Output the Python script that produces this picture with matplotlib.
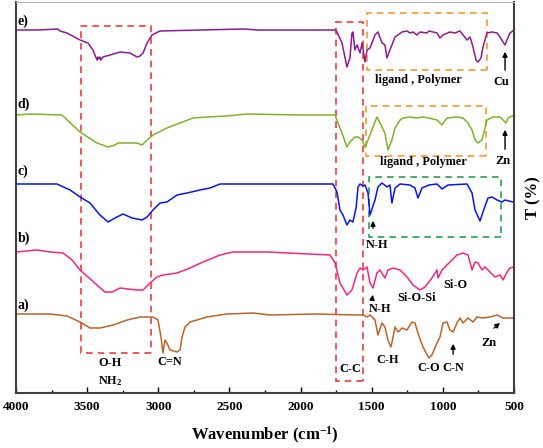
import matplotlib
matplotlib.use("Agg")
import matplotlib.pyplot as plt
from matplotlib.patches import Rectangle
import numpy as np

plt.rcParams['font.family'] = ['Liberation Serif', 'DejaVu Serif']
plt.rcParams['font.weight'] = 'bold'
plt.rcParams['mathtext.fontset'] = 'custom'
plt.rcParams['mathtext.rm'] = 'Liberation Serif:bold'
plt.rcParams['mathtext.it'] = 'Liberation Serif:bold'
plt.rcParams['mathtext.bf'] = 'Liberation Serif:bold'

# wavenumber (cm-1) and band depth below each trace's baseline (arb. units x10)
wn_e = [4000, 3850, 3705, 3691, 3642, 3550, 3494, 3459, 3431, 3424, 3417, 3410, 3403, 3389, 3339, 3269,
        3199, 3150, 3128, 3107, 3079, 3044, 2988, 2700, 2400, 2300, 1800, 1758, 1744, 1709, 1674, 1653,
        1639, 1632, 1618, 1603, 1582, 1568, 1547, 1533, 1512, 1477, 1456, 1428, 1407, 1393, 1372, 1336,
        1287, 1252, 1231, 1210, 1182, 1161, 1112, 1098, 1041, 1020, 999, 950, 915, 880, 858, 830, 809,
        788, 767, 753, 732, 718, 690, 655, 619, 598, 577, 563, 549, 528, 500]
dep_e = [0, 0, -1, 1, 3, 10, 13, 20, 30, 27, 29, 27, 30, 27, 25, 22,
         23, 27, 26, 23, 13, 5, 1, 0, -1, 0, 0, 0, 2, 13, 37, 28,
         3, 2, 20, 15, 23, 13, 32, 20, 18, 5, 2, 13, 15, 28, 20, 7,
         2, 1, 3, 2, 5, 2, 3, 1, 3, 8, 5, 2, 3, 1, 5, 10, 7,
         17, 30, 32, 28, 17, 3, 2, 3, 7, 12, 15, 10, 3, 0]

wn_d = [4000, 3900, 3677, 3550, 3431, 3353, 3304, 3283, 3220, 3150, 3114, 3079, 3037, 2939, 2847, 2756,
        2658, 2517, 2377, 2000, 1758, 1737, 1709, 1674, 1653, 1618, 1596, 1568, 1547, 1526, 1491, 1463,
        1442, 1407, 1386, 1358, 1336, 1301, 1280, 1231, 1182, 1140, 1098, 1041, 1006, 971, 901, 858,
        823, 795, 774, 753, 725, 690, 648, 598, 577, 556, 542, 500]
dep_d = [0, -1, 0, 17, 28, 32, 30, 28, 28, 28, 30, 25, 20, 13, 8, 3,
         2, 1, -1, 0, 0, 8, 18, 32, 27, 22, 22, 25, 32, 25, 12, 2,
         8, 18, 35, 25, 13, 5, 3, 2, 3, 2, 3, 5, 10, 3, 2, 3,
         8, 15, 25, 28, 25, 5, 2, 2, 5, 8, 3, 0]

wn_c = [4000, 3712, 3620, 3550, 3480, 3410, 3353, 3304, 3248, 3185, 3114, 3079, 3037, 2988, 2939, 2868,
        2798, 2707, 2637, 2566, 1864, 1772, 1744, 1723, 1702, 1674, 1653, 1632, 1610, 1596, 1582, 1561,
        1547, 1526, 1512, 1498, 1477, 1456, 1428, 1393, 1372, 1358, 1336, 1301, 1231, 1196, 1175, 1147,
        1098, 1041, 1006, 964, 830, 795, 774, 739, 718, 683, 655, 619, 584, 563, 507, 500]
dep_c = [0, 0, 6, 13, 19, 31, 38, 34, 30, 34, 36, 33, 26, 19, 18, 11,
         9, 6, 4, 0, 0, 0, 8, 26, 31, 41, 36, 38, 24, 3, 0, 2,
         1, 9, 31, 25, 16, 3, -1, 3, 1, 19, 4, 0, 1, 4, 14, 4,
         1, 0, 5, 1, 0, 9, 26, 37, 28, 14, 13, 16, 18, 16, 18, 18]

wn_b = [4000, 3852, 3761, 3670, 3606, 3550, 3494, 3431, 3375, 3325, 3269, 3213, 3150, 3107, 3058, 3009,
        2967, 2868, 2777, 2686, 2566, 2475, 2236, 1793, 1758, 1723, 1674, 1639, 1603, 1582, 1561, 1533,
        1512, 1491, 1463, 1442, 1407, 1386, 1350, 1301, 1252, 1210, 1161, 1126, 1098, 1077, 1041, 1034,
        1006, 950, 901, 858, 823, 795, 774, 753, 725, 704, 669, 633, 598, 577, 549, 528, 500]
dep_b = [0, -2, 0, 1, 8, 18, 25, 33, 40, 40, 36, 37, 38, 38, 31, 25,
         23, 21, 16, 10, 3, 0, 0, 3, 11, 31, 43, 38, 21, 16, 18, 15,
         31, 36, 21, 18, 26, 18, 16, 18, 25, 33, 38, 35, 30, 26, 18, 26,
         18, 10, 3, 1, 3, 18, 10, 11, 18, 15, 20, 25, 23, 28, 20, 16, 15]

wn_a = [4000, 3761, 3642, 3550, 3480, 3410, 3318, 3220, 3128, 3037, 3002, 2981, 2967, 2953, 2939, 2918,
        2868, 2847, 2833, 2812, 2777, 2658, 2517, 2334, 2215, 1900, 1600, 1561, 1533, 1512, 1477, 1456,
        1428, 1407, 1386, 1365, 1350, 1336, 1315, 1287, 1252, 1217, 1196, 1175, 1140, 1098, 1077, 1041,
        1020, 999, 971, 950, 928, 901, 880, 858, 823, 788, 760, 718, 669, 619, 577, 500]
dep_a = [0, 0, 2, 8, 14, 14, 11, 6, 3, 3, 6, 23, 39, 26, 29, 36,
         38, 36, 23, 13, 8, 3, 0, -1, 1, 0, 1, 1, 3, 1, 6, 21,
         9, 13, 26, 33, 23, 13, 18, 14, 16, 8, 9, 19, 33, 44, 41, 29,
         23, 9, 8, 16, 18, 9, 4, 9, 4, 8, 3, 4, 3, 1, 4, 4]

names = ["e)", "d)", "c)", "b)", "a)"]
offsets = [36.3, 27.8, 20.9, 14.1, 7.9]
colors = ["#8E1C8E", "#7DB32E", "#0A14F0", "#F0287F", "#B8652A"]
waves = [wn_e, wn_d, wn_c, wn_b, wn_a]
depths = [dep_e, dep_d, dep_c, dep_b, dep_a]
label_y = [37.2, 28.9, 22.2, 15.45, 8.8]

fig = plt.figure(figsize=(5.43, 4.48), dpi=100)
ax = fig.add_axes([16/543, 55/448, 498/543, 391/448])

for wn, dep, off, col in zip(waves, depths, offsets, colors):
    ax.plot(wn, off - np.array(dep)/10.0, color=col, lw=1.1)

for nm, ly in zip(names, label_y):
    ax.text(3990, ly, nm, fontsize=10, fontweight='bold', va='center', ha='left')

# dashed boxes
boxes = [(3545, 3050, 4.0, 36.7, "#F03C3C"),
         (1751, 1561, 1.2, 37.1, "#F03C3C"),
         (1533, 690, 32.3, 38.0, "#F59A35"),
         (1540, 697, 23.7, 28.7, "#F59A35"),
         (1519, 591, 15.6, 21.6, "#2E9E55")]
for x0, x1, y0, y1, c in boxes:
    ax.add_patch(Rectangle((x1, y0), x0 - x1, y1 - y0, fill=False, ec=c, lw=1.2, ls=(0, (4, 3))))

fs = 8.8
ax.text(1175, 31.3, "ligand , Polymer", fontsize=fs, ha='center', va='center')
ax.text(1140, 23.1, "ligand , Polymer", fontsize=fs, ha='center', va='center')
ax.text(592, 31.1, "Cu", fontsize=fs, ha='center', va='center')
ax.text(577, 23.2, "Zn", fontsize=fs, ha='center', va='center')
ax.text(1463, 14.8, "N-H", fontsize=fs, ha='center', va='center')
ax.text(1442, 8.4, "N-H", fontsize=fs, ha='center', va='center')
ax.text(1182, 9.5, "Si-O-Si", fontsize=fs, ha='center', va='center')
ax.text(915, 10.8, "Si-O", fontsize=fs, ha='center', va='center')
ax.text(1386, 3.3, "C-H", fontsize=fs, ha='center', va='center')
ax.text(1098, 2.5, "C-O", fontsize=fs, ha='center', va='center')
ax.text(928, 2.5, "C-N", fontsize=fs, ha='center', va='center')
ax.text(676, 5.0, "Zn", fontsize=fs, ha='center', va='center')
ax.text(3339, 3.0, "O-H", fontsize=fs, ha='center', va='center')
ax.text(3339, 1.2, "NH$_2$", fontsize=fs, ha='center', va='center')
ax.text(2918, 3.1, "C=N", fontsize=fs, ha='center', va='center')
ax.text(1653, 2.4, "C-C", fontsize=fs, ha='center', va='center')

arrows = [((563, 32.0), (563, 34.4)),
          ((563, 24.1), (563, 26.6)),
          ((1491, 16.2), (1491, 17.5)),
          ((1500, 9.0), (1490, 10.1)),
          ((928, 3.6), (928, 5.2)),
          ((655, 6.3), (584, 7.2))]
for (xa, ya), (xb, yb) in arrows:
    ax.annotate("", xy=(xb, yb), xytext=(xa, ya),
                arrowprops=dict(arrowstyle="-|>", color="black", lw=1.0, mutation_scale=7))

ax.set_xlim(4000, 500)
ax.set_ylim(0, 39.1)
ax.set_yticks([])
ax.set_xticks([4000, 3500, 3000, 2500, 2000, 1500, 1000, 500])
ax.set_xticks(np.arange(500, 4001, 250), minor=True)
ax.tick_params(axis='x', which='major', direction='in', length=4, width=1, labelsize=9.5, pad=6)
ax.tick_params(axis='x', which='minor', direction='in', length=2, width=1)
for lab in ax.get_xticklabels():
    lab.set_fontweight('bold')
for s in ['left', 'right', 'bottom']:
    ax.spines[s].set_color('#404040')
    ax.spines[s].set_linewidth(1.5)
ax.spines['top'].set_color('#B0B0B0')
ax.spines['top'].set_linewidth(0.8)

ax.set_xlabel("Wavenumber (cm$^{-1}$)", fontsize=12, fontweight='bold', labelpad=8)
ax.yaxis.set_label_position('right')
ax.set_ylabel("T (%)", fontsize=12, fontweight='bold', rotation=90, labelpad=8)

fig.savefig("out.png", dpi=100)
